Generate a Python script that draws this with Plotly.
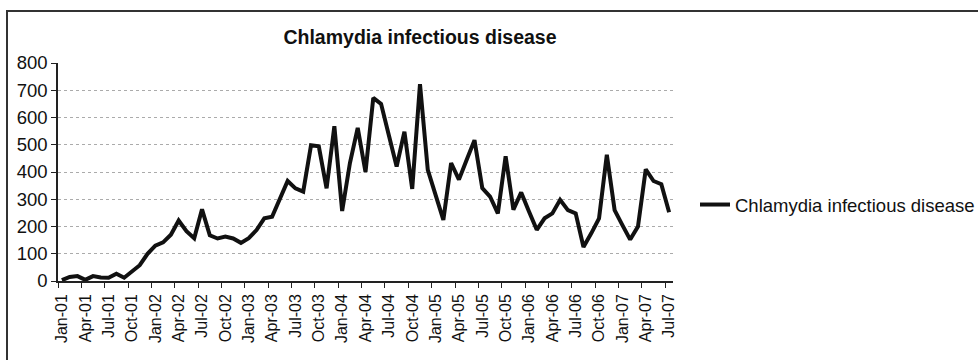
import plotly.graph_objects as go

# Monthly case counts, Jan 2001 – Jul 2007
months = [
    "Jan-01", "Feb-01", "Mar-01", "Apr-01", "May-01", "Jun-01", "Jul-01", "Aug-01", "Sep-01", "Oct-01", "Nov-01", "Dec-01",
    "Jan-02", "Feb-02", "Mar-02", "Apr-02", "May-02", "Jun-02", "Jul-02", "Aug-02", "Sep-02", "Oct-02", "Nov-02", "Dec-02",
    "Jan-03", "Feb-03", "Mar-03", "Apr-03", "May-03", "Jun-03", "Jul-03", "Aug-03", "Sep-03", "Oct-03", "Nov-03", "Dec-03",
    "Jan-04", "Feb-04", "Mar-04", "Apr-04", "May-04", "Jun-04", "Jul-04", "Aug-04", "Sep-04", "Oct-04", "Nov-04", "Dec-04",
    "Jan-05", "Feb-05", "Mar-05", "Apr-05", "May-05", "Jun-05", "Jul-05", "Aug-05", "Sep-05", "Oct-05", "Nov-05", "Dec-05",
    "Jan-06", "Feb-06", "Mar-06", "Apr-06", "May-06", "Jun-06", "Jul-06", "Aug-06", "Sep-06", "Oct-06", "Nov-06", "Dec-06",
    "Jan-07", "Feb-07", "Mar-07", "Apr-07", "May-07", "Jun-07", "Jul-07",
]
cases = [
    3, 15, 18, 4, 18, 13, 12, 27, 12, 33, 58, 100,
    130, 142, 170, 222, 183, 157, 263, 168, 156, 163, 156, 140,
    157, 187, 230, 236, 300, 367, 340, 328, 498, 494, 340, 568,
    257, 433, 562, 400, 672, 650, 535, 420, 548, 338, 722, 408,
    316, 224, 433, 372, 445, 517, 341, 310, 248, 458, 262, 325,
    255, 188, 230, 248, 298, 260, 248, 125, 175, 230, 463, 260,
    205, 152, 200, 410, 367, 355, 252,
]
series_name = "Chlamydia infectious disease"
y_ticks = [0, 100, 200, 300, 400, 500, 600, 700, 800]
label_step = 3

# each month sits in the middle of its category slot; ticks mark slot boundaries
x_pos = [i + 0.5 for i in range(len(months))]
tick_pos = list(range(0, len(months), label_step))
tick_txt = [months[i] for i in tick_pos]

W, H = 978, 360
L, R, T, B = 58, 305, 63, 79
pw, ph = W - L - R, H - T - B

def px_to_paper_x(px):
    return (px - L) / pw

def px_to_paper_y(py):
    return (H - B - py) / ph

fig = go.Figure()
fig.add_trace(go.Scatter(
    x=x_pos, y=cases, mode="lines", name=series_name,
    line=dict(color="#111111", width=4),
))

font_family = "Liberation Sans, Arial, sans-serif"

fig.update_layout(
    width=W, height=H,
    margin=dict(l=L, r=R, t=T, b=B, autoexpand=False),
    paper_bgcolor="white", plot_bgcolor="white",
    font=dict(family=font_family, color="#111111", size=16),
    title=dict(
        text="<b>Chlamydia infectious disease</b>",
        font=dict(size=19.5, family=font_family, color="#111111"),
        x=420 / W, xanchor="center",
        y=1 - 37 / H, yanchor="middle",
    ),
    showlegend=True,
    legend=dict(
        x=px_to_paper_x(695), xanchor="left",
        y=px_to_paper_y(205), yanchor="middle",
        font=dict(size=18.5, family=font_family, color="#111111"),
        bgcolor="rgba(0,0,0,0)",
        itemwidth=30,
    ),
    xaxis=dict(
        range=[0, len(months)],
        tickmode="array", tickvals=tick_pos, ticktext=tick_txt,
        tickangle=-90, ticklabelshift=4,
        ticks="outside", ticklen=5, tickwidth=1.2, tickcolor="#222222",
        showline=True, linecolor="#222222", linewidth=1.5,
        showgrid=False, zeroline=False, automargin=False,
        tickfont=dict(size=16, family=font_family, color="#111111"),
    ),
    yaxis=dict(
        range=[0, 800],
        tickmode="array", tickvals=y_ticks,
        ticks="outside", ticklen=5, tickwidth=1.2, tickcolor="#222222",
        showline=True, linecolor="#222222", linewidth=1.5,
        showgrid=True, gridcolor="#ababab", gridwidth=1, griddash="dot",
        zeroline=False, automargin=False,
        tickfont=dict(size=18.5, family=font_family, color="#111111"),
    ),
    shapes=[
        # outer chart frame (continues past the right and bottom edges)
        dict(type="rect", xref="paper", yref="paper",
             x0=px_to_paper_x(7), x1=px_to_paper_x(990),
             y0=px_to_paper_y(375), y1=px_to_paper_y(11),
             line=dict(color="#333333", width=2), fillcolor="rgba(0,0,0,0)",
             layer="below"),
    ],
)

fig.write_html("out.html")
